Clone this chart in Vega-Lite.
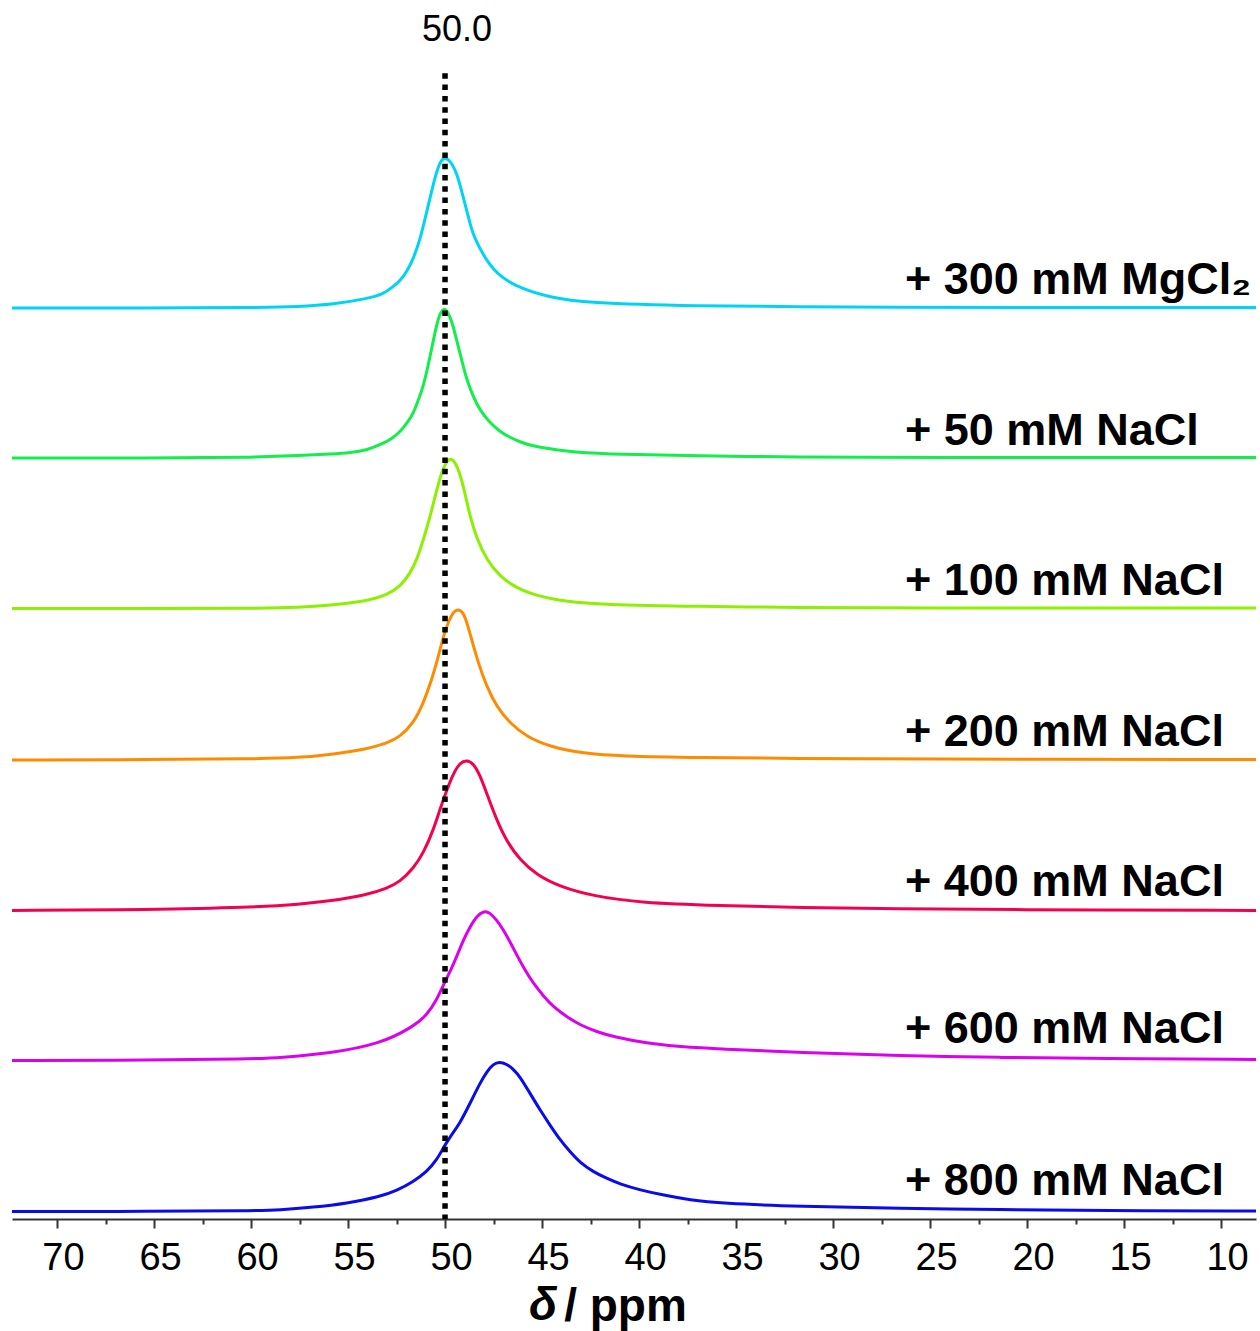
{
"$schema": "https://vega.github.io/schema/vega-lite/v6.json",
"width": 1244, "height": 1219,
"autosize": {"type": "none"},
"padding": {"left": 12, "top": 0, "right": 4, "bottom": 112},
"background": "white",
"config": {"view": {"stroke": null}, "font": "Liberation Sans"},
"datasets": {
"marker": [{"shift": 50.0}],
"spectra": [
{"series":"+ 300 mM MgCl₂","ppm":72.32,"intensity":6.000},
{"series":"+ 300 mM MgCl₂","ppm":65.21,"intensity":6.000},
{"series":"+ 300 mM MgCl₂","ppm":60.05,"intensity":6.003},
{"series":"+ 300 mM MgCl₂","ppm":57.47,"intensity":6.009},
{"series":"+ 300 mM MgCl₂","ppm":55.77,"intensity":6.025},
{"series":"+ 300 mM MgCl₂","ppm":54.02,"intensity":6.062},
{"series":"+ 300 mM MgCl₂","ppm":53.18,"intensity":6.093},
{"series":"+ 300 mM MgCl₂","ppm":52.67,"intensity":6.142},
{"series":"+ 300 mM MgCl₂","ppm":52.32,"intensity":6.181},
{"series":"+ 300 mM MgCl₂","ppm":51.97,"intensity":6.241},
{"series":"+ 300 mM MgCl₂","ppm":51.63,"intensity":6.330},
{"series":"+ 300 mM MgCl₂","ppm":51.29,"intensity":6.452},
{"series":"+ 300 mM MgCl₂","ppm":50.88,"intensity":6.673},
{"series":"+ 300 mM MgCl₂","ppm":50.52,"intensity":6.872},
{"series":"+ 300 mM MgCl₂","ppm":50.26,"intensity":6.972},
{"series":"+ 300 mM MgCl₂","ppm":50.05,"intensity":7.001},
{"series":"+ 300 mM MgCl₂","ppm":49.74,"intensity":6.983},
{"series":"+ 300 mM MgCl₂","ppm":49.38,"intensity":6.895},
{"series":"+ 300 mM MgCl₂","ppm":49.07,"intensity":6.740},
{"series":"+ 300 mM MgCl₂","ppm":48.71,"intensity":6.563},
{"series":"+ 300 mM MgCl₂","ppm":48.54,"intensity":6.479},
{"series":"+ 300 mM MgCl₂","ppm":47.85,"intensity":6.308},
{"series":"+ 300 mM MgCl₂","ppm":47.16,"intensity":6.208},
{"series":"+ 300 mM MgCl₂","ppm":46.13,"intensity":6.131},
{"series":"+ 300 mM MgCl₂","ppm":44.59,"intensity":6.071},
{"series":"+ 300 mM MgCl₂","ppm":42.87,"intensity":6.035},
{"series":"+ 300 mM MgCl₂","ppm":36.86,"intensity":6.013},
{"series":"+ 300 mM MgCl₂","ppm":31.70,"intensity":6.009},
{"series":"+ 300 mM MgCl₂","ppm":26.55,"intensity":6.006},
{"series":"+ 300 mM MgCl₂","ppm":21.39,"intensity":6.003},
{"series":"+ 300 mM MgCl₂","ppm":8.20,"intensity":6.003},
{"series":"+ 50 mM NaCl","ppm":72.32,"intensity":5.003},
{"series":"+ 50 mM NaCl","ppm":65.21,"intensity":5.003},
{"series":"+ 50 mM NaCl","ppm":60.05,"intensity":5.008},
{"series":"+ 50 mM NaCl","ppm":57.47,"intensity":5.020},
{"series":"+ 50 mM NaCl","ppm":55.77,"intensity":5.030},
{"series":"+ 50 mM NaCl","ppm":54.90,"intensity":5.038},
{"series":"+ 50 mM NaCl","ppm":54.02,"intensity":5.056},
{"series":"+ 50 mM NaCl","ppm":53.18,"intensity":5.101},
{"series":"+ 50 mM NaCl","ppm":52.73,"intensity":5.133},
{"series":"+ 50 mM NaCl","ppm":52.32,"intensity":5.178},
{"series":"+ 50 mM NaCl","ppm":51.97,"intensity":5.233},
{"series":"+ 50 mM NaCl","ppm":51.63,"intensity":5.300},
{"series":"+ 50 mM NaCl","ppm":51.38,"intensity":5.389},
{"series":"+ 50 mM NaCl","ppm":51.12,"intensity":5.475},
{"series":"+ 50 mM NaCl","ppm":50.77,"intensity":5.676},
{"series":"+ 50 mM NaCl","ppm":50.43,"intensity":5.898},
{"series":"+ 50 mM NaCl","ppm":50.23,"intensity":5.973},
{"series":"+ 50 mM NaCl","ppm":50.05,"intensity":5.998},
{"series":"+ 50 mM NaCl","ppm":49.90,"intensity":5.983},
{"series":"+ 50 mM NaCl","ppm":49.74,"intensity":5.942},
{"series":"+ 50 mM NaCl","ppm":49.57,"intensity":5.874},
{"series":"+ 50 mM NaCl","ppm":49.40,"intensity":5.787},
{"series":"+ 50 mM NaCl","ppm":49.14,"intensity":5.654},
{"series":"+ 50 mM NaCl","ppm":48.88,"intensity":5.522},
{"series":"+ 50 mM NaCl","ppm":48.54,"intensity":5.409},
{"series":"+ 50 mM NaCl","ppm":48.20,"intensity":5.322},
{"series":"+ 50 mM NaCl","ppm":47.68,"intensity":5.236},
{"series":"+ 50 mM NaCl","ppm":47.16,"intensity":5.179},
{"series":"+ 50 mM NaCl","ppm":46.65,"intensity":5.140},
{"series":"+ 50 mM NaCl","ppm":46.13,"intensity":5.110},
{"series":"+ 50 mM NaCl","ppm":45.45,"intensity":5.080},
{"series":"+ 50 mM NaCl","ppm":43.73,"intensity":5.047},
{"series":"+ 50 mM NaCl","ppm":42.01,"intensity":5.030},
{"series":"+ 50 mM NaCl","ppm":36.86,"intensity":5.017},
{"series":"+ 50 mM NaCl","ppm":31.70,"intensity":5.010},
{"series":"+ 50 mM NaCl","ppm":26.55,"intensity":5.007},
{"series":"+ 50 mM NaCl","ppm":8.20,"intensity":5.007},
{"series":"+ 100 mM NaCl","ppm":72.32,"intensity":4.003},
{"series":"+ 100 mM NaCl","ppm":65.21,"intensity":4.003},
{"series":"+ 100 mM NaCl","ppm":60.05,"intensity":4.005},
{"series":"+ 100 mM NaCl","ppm":57.47,"intensity":4.009},
{"series":"+ 100 mM NaCl","ppm":55.76,"intensity":4.027},
{"series":"+ 100 mM NaCl","ppm":54.04,"intensity":4.053},
{"series":"+ 100 mM NaCl","ppm":53.00,"intensity":4.093},
{"series":"+ 100 mM NaCl","ppm":52.32,"intensity":4.148},
{"series":"+ 100 mM NaCl","ppm":51.80,"intensity":4.237},
{"series":"+ 100 mM NaCl","ppm":51.46,"intensity":4.326},
{"series":"+ 100 mM NaCl","ppm":51.12,"intensity":4.458},
{"series":"+ 100 mM NaCl","ppm":50.77,"intensity":4.613},
{"series":"+ 100 mM NaCl","ppm":50.43,"intensity":4.791},
{"series":"+ 100 mM NaCl","ppm":50.17,"intensity":4.912},
{"series":"+ 100 mM NaCl","ppm":49.91,"intensity":4.985},
{"series":"+ 100 mM NaCl","ppm":49.71,"intensity":5.001},
{"series":"+ 100 mM NaCl","ppm":49.49,"intensity":4.979},
{"series":"+ 100 mM NaCl","ppm":49.23,"intensity":4.902},
{"series":"+ 100 mM NaCl","ppm":48.97,"intensity":4.769},
{"series":"+ 100 mM NaCl","ppm":48.71,"intensity":4.613},
{"series":"+ 100 mM NaCl","ppm":48.37,"intensity":4.470},
{"series":"+ 100 mM NaCl","ppm":47.85,"intensity":4.326},
{"series":"+ 100 mM NaCl","ppm":47.16,"intensity":4.215},
{"series":"+ 100 mM NaCl","ppm":46.30,"intensity":4.137},
{"series":"+ 100 mM NaCl","ppm":45.10,"intensity":4.082},
{"series":"+ 100 mM NaCl","ppm":43.73,"intensity":4.049},
{"series":"+ 100 mM NaCl","ppm":42.01,"intensity":4.030},
{"series":"+ 100 mM NaCl","ppm":36.86,"intensity":4.017},
{"series":"+ 100 mM NaCl","ppm":31.70,"intensity":4.010},
{"series":"+ 100 mM NaCl","ppm":26.55,"intensity":4.007},
{"series":"+ 100 mM NaCl","ppm":8.20,"intensity":4.007},
{"series":"+ 200 mM NaCl","ppm":72.32,"intensity":2.997},
{"series":"+ 200 mM NaCl","ppm":65.21,"intensity":3.000},
{"series":"+ 200 mM NaCl","ppm":60.05,"intensity":3.004},
{"series":"+ 200 mM NaCl","ppm":57.47,"intensity":3.012},
{"series":"+ 200 mM NaCl","ppm":55.76,"intensity":3.035},
{"series":"+ 200 mM NaCl","ppm":54.04,"intensity":3.070},
{"series":"+ 200 mM NaCl","ppm":53.00,"intensity":3.108},
{"series":"+ 200 mM NaCl","ppm":52.32,"intensity":3.151},
{"series":"+ 200 mM NaCl","ppm":51.63,"intensity":3.241},
{"series":"+ 200 mM NaCl","ppm":51.12,"intensity":3.373},
{"series":"+ 200 mM NaCl","ppm":50.69,"intensity":3.528},
{"series":"+ 200 mM NaCl","ppm":50.35,"intensity":3.683},
{"series":"+ 200 mM NaCl","ppm":50.09,"intensity":3.816},
{"series":"+ 200 mM NaCl","ppm":49.83,"intensity":3.916},
{"series":"+ 200 mM NaCl","ppm":49.57,"intensity":3.982},
{"series":"+ 200 mM NaCl","ppm":49.33,"intensity":4.000},
{"series":"+ 200 mM NaCl","ppm":49.09,"intensity":3.982},
{"series":"+ 200 mM NaCl","ppm":48.88,"intensity":3.916},
{"series":"+ 200 mM NaCl","ppm":48.62,"intensity":3.794},
{"series":"+ 200 mM NaCl","ppm":48.28,"intensity":3.639},
{"series":"+ 200 mM NaCl","ppm":47.85,"intensity":3.484},
{"series":"+ 200 mM NaCl","ppm":47.34,"intensity":3.351},
{"series":"+ 200 mM NaCl","ppm":46.65,"intensity":3.241},
{"series":"+ 200 mM NaCl","ppm":45.79,"intensity":3.151},
{"series":"+ 200 mM NaCl","ppm":44.59,"intensity":3.085},
{"series":"+ 200 mM NaCl","ppm":42.87,"intensity":3.041},
{"series":"+ 200 mM NaCl","ppm":40.98,"intensity":3.023},
{"series":"+ 200 mM NaCl","ppm":36.86,"intensity":3.013},
{"series":"+ 200 mM NaCl","ppm":31.70,"intensity":3.007},
{"series":"+ 200 mM NaCl","ppm":26.55,"intensity":3.003},
{"series":"+ 200 mM NaCl","ppm":8.20,"intensity":3.000},
{"series":"+ 400 mM NaCl","ppm":72.32,"intensity":1.997},
{"series":"+ 400 mM NaCl","ppm":65.21,"intensity":2.003},
{"series":"+ 400 mM NaCl","ppm":60.05,"intensity":2.017},
{"series":"+ 400 mM NaCl","ppm":57.47,"intensity":2.038},
{"series":"+ 400 mM NaCl","ppm":55.76,"intensity":2.062},
{"series":"+ 400 mM NaCl","ppm":54.04,"intensity":2.100},
{"series":"+ 400 mM NaCl","ppm":53.00,"intensity":2.144},
{"series":"+ 400 mM NaCl","ppm":52.32,"intensity":2.188},
{"series":"+ 400 mM NaCl","ppm":51.63,"intensity":2.277},
{"series":"+ 400 mM NaCl","ppm":51.12,"intensity":2.377},
{"series":"+ 400 mM NaCl","ppm":50.60,"intensity":2.532},
{"series":"+ 400 mM NaCl","ppm":50.26,"intensity":2.671},
{"series":"+ 400 mM NaCl","ppm":49.91,"intensity":2.797},
{"series":"+ 400 mM NaCl","ppm":49.57,"intensity":2.908},
{"series":"+ 400 mM NaCl","ppm":49.23,"intensity":2.979},
{"series":"+ 400 mM NaCl","ppm":48.88,"intensity":2.997},
{"series":"+ 400 mM NaCl","ppm":48.54,"intensity":2.975},
{"series":"+ 400 mM NaCl","ppm":48.20,"intensity":2.897},
{"series":"+ 400 mM NaCl","ppm":47.85,"intensity":2.775},
{"series":"+ 400 mM NaCl","ppm":47.34,"intensity":2.598},
{"series":"+ 400 mM NaCl","ppm":46.82,"intensity":2.455},
{"series":"+ 400 mM NaCl","ppm":46.13,"intensity":2.332},
{"series":"+ 400 mM NaCl","ppm":45.27,"intensity":2.233},
{"series":"+ 400 mM NaCl","ppm":44.07,"intensity":2.155},
{"series":"+ 400 mM NaCl","ppm":42.36,"intensity":2.093},
{"series":"+ 400 mM NaCl","ppm":39.95,"intensity":2.048},
{"series":"+ 400 mM NaCl","ppm":35.83,"intensity":2.030},
{"series":"+ 400 mM NaCl","ppm":31.70,"intensity":2.017},
{"series":"+ 400 mM NaCl","ppm":26.55,"intensity":2.007},
{"series":"+ 400 mM NaCl","ppm":21.39,"intensity":2.003},
{"series":"+ 400 mM NaCl","ppm":8.20,"intensity":1.997},
{"series":"+ 600 mM NaCl","ppm":72.32,"intensity":1.000},
{"series":"+ 600 mM NaCl","ppm":65.21,"intensity":1.003},
{"series":"+ 600 mM NaCl","ppm":60.05,"intensity":1.010},
{"series":"+ 600 mM NaCl","ppm":58.51,"intensity":1.019},
{"series":"+ 600 mM NaCl","ppm":55.93,"intensity":1.048},
{"series":"+ 600 mM NaCl","ppm":53.35,"intensity":1.110},
{"series":"+ 600 mM NaCl","ppm":51.63,"intensity":1.225},
{"series":"+ 600 mM NaCl","ppm":50.94,"intensity":1.302},
{"series":"+ 600 mM NaCl","ppm":50.43,"intensity":1.402},
{"series":"+ 600 mM NaCl","ppm":50.09,"intensity":1.502},
{"series":"+ 600 mM NaCl","ppm":49.74,"intensity":1.590},
{"series":"+ 600 mM NaCl","ppm":49.40,"intensity":1.690},
{"series":"+ 600 mM NaCl","ppm":49.06,"intensity":1.801},
{"series":"+ 600 mM NaCl","ppm":48.71,"intensity":1.889},
{"series":"+ 600 mM NaCl","ppm":48.37,"intensity":1.960},
{"series":"+ 600 mM NaCl","ppm":47.99,"intensity":1.995},
{"series":"+ 600 mM NaCl","ppm":47.68,"intensity":1.982},
{"series":"+ 600 mM NaCl","ppm":47.34,"intensity":1.934},
{"series":"+ 600 mM NaCl","ppm":46.99,"intensity":1.867},
{"series":"+ 600 mM NaCl","ppm":46.65,"intensity":1.789},
{"series":"+ 600 mM NaCl","ppm":46.30,"intensity":1.701},
{"series":"+ 600 mM NaCl","ppm":45.88,"intensity":1.601},
{"series":"+ 600 mM NaCl","ppm":45.45,"intensity":1.513},
{"series":"+ 600 mM NaCl","ppm":44.93,"intensity":1.429},
{"series":"+ 600 mM NaCl","ppm":44.42,"intensity":1.357},
{"series":"+ 600 mM NaCl","ppm":43.73,"intensity":1.291},
{"series":"+ 600 mM NaCl","ppm":43.04,"intensity":1.236},
{"series":"+ 600 mM NaCl","ppm":42.18,"intensity":1.191},
{"series":"+ 600 mM NaCl","ppm":41.32,"intensity":1.158},
{"series":"+ 600 mM NaCl","ppm":39.60,"intensity":1.114},
{"series":"+ 600 mM NaCl","ppm":37.89,"intensity":1.092},
{"series":"+ 600 mM NaCl","ppm":35.83,"intensity":1.076},
{"series":"+ 600 mM NaCl","ppm":31.70,"intensity":1.053},
{"series":"+ 600 mM NaCl","ppm":26.55,"intensity":1.033},
{"series":"+ 600 mM NaCl","ppm":21.39,"intensity":1.020},
{"series":"+ 600 mM NaCl","ppm":16.24,"intensity":1.013},
{"series":"+ 600 mM NaCl","ppm":8.20,"intensity":1.007},
{"series":"+ 800 mM NaCl","ppm":72.32,"intensity":-0.003},
{"series":"+ 800 mM NaCl","ppm":65.21,"intensity":-0.003},
{"series":"+ 800 mM NaCl","ppm":60.05,"intensity":0.002},
{"series":"+ 800 mM NaCl","ppm":58.51,"intensity":0.007},
{"series":"+ 800 mM NaCl","ppm":56.79,"intensity":0.025},
{"series":"+ 800 mM NaCl","ppm":55.07,"intensity":0.051},
{"series":"+ 800 mM NaCl","ppm":53.35,"intensity":0.095},
{"series":"+ 800 mM NaCl","ppm":52.49,"intensity":0.135},
{"series":"+ 800 mM NaCl","ppm":51.63,"intensity":0.195},
{"series":"+ 800 mM NaCl","ppm":50.94,"intensity":0.261},
{"series":"+ 800 mM NaCl","ppm":50.43,"intensity":0.339},
{"series":"+ 800 mM NaCl","ppm":50.09,"intensity":0.419},
{"series":"+ 800 mM NaCl","ppm":49.74,"intensity":0.494},
{"series":"+ 800 mM NaCl","ppm":49.23,"intensity":0.583},
{"series":"+ 800 mM NaCl","ppm":48.71,"intensity":0.716},
{"series":"+ 800 mM NaCl","ppm":48.20,"intensity":0.849},
{"series":"+ 800 mM NaCl","ppm":47.85,"intensity":0.926},
{"series":"+ 800 mM NaCl","ppm":47.51,"intensity":0.977},
{"series":"+ 800 mM NaCl","ppm":47.20,"intensity":0.992},
{"series":"+ 800 mM NaCl","ppm":46.82,"intensity":0.977},
{"series":"+ 800 mM NaCl","ppm":46.48,"intensity":0.942},
{"series":"+ 800 mM NaCl","ppm":46.13,"intensity":0.892},
{"series":"+ 800 mM NaCl","ppm":45.62,"intensity":0.782},
{"series":"+ 800 mM NaCl","ppm":45.10,"intensity":0.671},
{"series":"+ 800 mM NaCl","ppm":44.59,"intensity":0.571},
{"series":"+ 800 mM NaCl","ppm":44.07,"intensity":0.472},
{"series":"+ 800 mM NaCl","ppm":43.56,"intensity":0.394},
{"series":"+ 800 mM NaCl","ppm":43.04,"intensity":0.321},
{"series":"+ 800 mM NaCl","ppm":42.36,"intensity":0.261},
{"series":"+ 800 mM NaCl","ppm":41.67,"intensity":0.217},
{"series":"+ 800 mM NaCl","ppm":40.98,"intensity":0.179},
{"series":"+ 800 mM NaCl","ppm":39.95,"intensity":0.140},
{"series":"+ 800 mM NaCl","ppm":38.75,"intensity":0.106},
{"series":"+ 800 mM NaCl","ppm":37.37,"intensity":0.073},
{"series":"+ 800 mM NaCl","ppm":35.83,"intensity":0.051},
{"series":"+ 800 mM NaCl","ppm":31.70,"intensity":0.030},
{"series":"+ 800 mM NaCl","ppm":26.55,"intensity":0.017},
{"series":"+ 800 mM NaCl","ppm":21.39,"intensity":0.010},
{"series":"+ 800 mM NaCl","ppm":16.24,"intensity":0.003},
{"series":"+ 800 mM NaCl","ppm":8.20,"intensity":0.000}
]
},
"layer": [
{
 "data": {"name": "spectra"},
 "mark": {"type": "line", "strokeWidth": 3, "interpolate": "basis", "clip": false},
 "encoding": {
  "x": {"field": "ppm", "type": "quantitative",
   "scale": {"domain": [8.2, 72.32], "reverse": true, "nice": false, "zero": false},
   "axis": {
    "values": [70,67.5,65,62.5,60,57.5,55,52.5,50,47.5,45,42.5,40,37.5,35,32.5,30,27.5,25,22.5,20,17.5,15,12.5,10],
    "labelExpr": "datum.value % 5 == 0 ? datum.label : ''",
    "tickSize": {"condition": {"test": "datum.value % 5 == 0", "value": 9}, "value": 5},
    "tickWidth": 2, "tickColor": "#333333", "domainColor": "#333333", "domainWidth": 2,
    "labelFontSize": 38, "labelColor": "black", "labelPadding": 11, "labelOffset": 6,
    "labelFlush": false, "labelOverlap": false, "labelBound": false, "grid": false,
    "title": "/ ppm", "titleFontSize": 46, "titleFontWeight": "bold", "titleColor": "black",
    "titleX": 613, "titleY": 101, "titleBaseline": "alphabetic", "titleAlign": "center", "titleAnchor": null
   }},
  "y": {"field": "intensity", "type": "quantitative",
   "scale": {"domain": [-0.053, 8.047], "nice": false, "zero": false}, "axis": null},
  "color": {"field": "series", "type": "nominal", "legend": null,
   "scale": {"domain": ["+ 300 mM MgCl₂","+ 50 mM NaCl","+ 100 mM NaCl","+ 200 mM NaCl","+ 400 mM NaCl","+ 600 mM NaCl","+ 800 mM NaCl"],
    "range": ["#00d4f5","#12ee4a","#8cf000","#ff8c00","#f5004e","#dd00f0","#0a0af0"]}}
 }
},
{
 "data": {"name": "marker"},
 "mark": {"type": "rule", "strokeDash": [5.5, 5.8], "strokeWidth": 5.5, "color": "black", "strokeCap": "butt"},
 "encoding": {
  "x": {"field": "shift", "type": "quantitative", "title": "/ ppm"},
  "y": {"datum": 7.56, "type": "quantitative", "axis": null},
  "y2": {"datum": -0.053}
 }
},
{
 "data": {"name": "marker"},
 "mark": {"type": "text", "fontSize": 36, "align": "center", "baseline": "middle", "dx": 12, "color": "black"},
 "encoding": {
  "x": {"field": "shift", "type": "quantitative", "title": "/ ppm"},
  "y": {"datum": 7.847, "type": "quantitative", "axis": null},
  "text": {"field": "shift", "type": "quantitative", "format": ".1f"}
 }
},
{
 "data": {"name": "spectra"},
 "transform": [{"filter": "datum.ppm == 26.55"}],
 "mark": {"type": "text", "fontSize": 45, "fontWeight": "bold", "align": "left", "baseline": "alphabetic", "dx": 5, "dy": -13, "color": "black"},
 "encoding": {
  "x": {"field": "ppm", "type": "quantitative", "title": "/ ppm"},
  "y": {"field": "intensity", "type": "quantitative", "axis": null},
  "text": {"field": "series", "type": "nominal"}
 }
},
{
 "data": {"values": [{"symbol": "δ"}]},
 "mark": {"type": "text", "fontSize": 46, "fontWeight": "bold", "fontStyle": "italic", "align": "center", "baseline": "alphabetic", "color": "black"},
 "encoding": {
  "x": {"datum": 44.95, "type": "quantitative", "title": "/ ppm"},
  "y": {"datum": -0.724, "type": "quantitative", "axis": null},
  "text": {"field": "symbol", "type": "nominal"}
 }
}
]
}
